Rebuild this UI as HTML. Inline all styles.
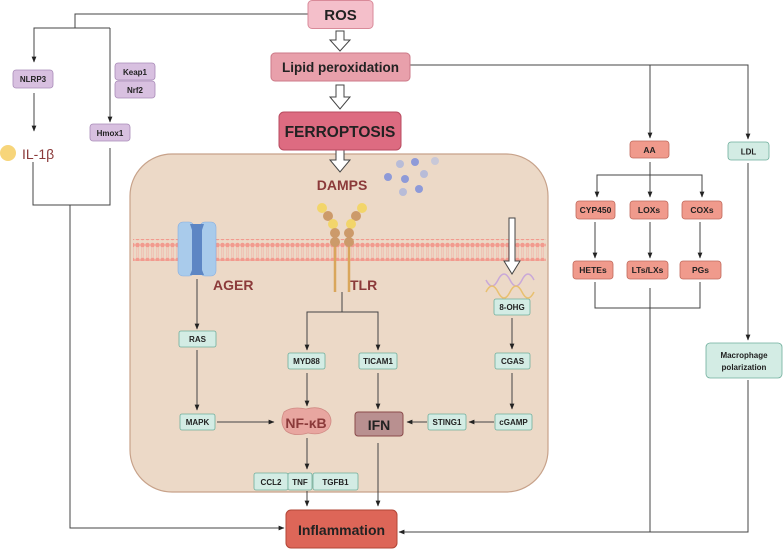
<!DOCTYPE html>
<html><head><meta charset="utf-8"><style>
body{margin:0;background:#fff}
svg{display:block}
text{font-family:"Liberation Sans",sans-serif;font-weight:bold}
text.n{font-weight:normal}
</style></head><body>
<svg width="783" height="552" viewBox="0 0 783 552" xmlns="http://www.w3.org/2000/svg">
<defs>
<marker id="a" viewBox="0 0 10 10" refX="9" refY="5" markerWidth="6" markerHeight="6" orient="auto"><path d="M0,1 L10,5 L0,9 z" fill="#222"/></marker>
<pattern id="lip" x="0" y="0" width="5" height="22" patternUnits="userSpaceOnUse">
<circle cx="2.5" cy="3" r="2.3" fill="#f29a8e"/>
<line x1="1.8" y1="5" x2="1.8" y2="17" stroke="#f2b0a6" stroke-width="0.6"/>
<line x1="3.2" y1="5" x2="3.2" y2="17" stroke="#f2b0a6" stroke-width="0.6"/>
<circle cx="2.5" cy="18" r="2.3" fill="#f29a8e"/>
</pattern>
</defs>
<rect x="130" y="154" width="418" height="338" rx="42" fill="#ecd9c7" stroke="#c7a28a" stroke-width="1.2"/>
<rect x="133" y="239" width="413" height="22" fill="url(#lip)"/>
<g fill="none" stroke="#444" stroke-width="1">
<polyline points="308,14 75,14 75,28"/>
<polyline points="110,28 34,28 34,62" marker-end="url(#a)"/>
<polyline points="110,28 110,122" marker-end="url(#a)"/>
<line x1="34" y1="93" x2="34" y2="131" marker-end="url(#a)"/>
<polyline points="33,162 33,205 110,205 110,148"/>
<polyline points="70,205 70,528 284,528" marker-end="url(#a)"/>
<polyline points="410,65 748,65 748,139" marker-end="url(#a)"/>
<line x1="650" y1="65" x2="650" y2="138" marker-end="url(#a)"/>
<line x1="650" y1="162" x2="650" y2="197" marker-end="url(#a)"/>
<polyline points="597,197 597,175 702,175 702,197" />
<line x1="597" y1="190" x2="597" y2="197" marker-end="url(#a)"/>
<line x1="702" y1="190" x2="702" y2="197" marker-end="url(#a)"/>
<line x1="595" y1="222" x2="595" y2="258" marker-end="url(#a)"/>
<line x1="650" y1="222" x2="650" y2="258" marker-end="url(#a)"/>
<line x1="700" y1="222" x2="700" y2="258" marker-end="url(#a)"/>
<polyline points="595,282 595,308 700,308 700,282"/>
<polyline points="650,288 650,532 399,532" marker-end="url(#a)"/>
<line x1="748" y1="163" x2="748" y2="340" marker-end="url(#a)"/>
<polyline points="748,380 748,532 650,532"/>
<line x1="197" y1="279" x2="197" y2="329" marker-end="url(#a)"/>
<line x1="197" y1="350" x2="197" y2="410" marker-end="url(#a)"/>
<line x1="217" y1="422" x2="274" y2="422" marker-end="url(#a)"/>
<line x1="342" y1="292" x2="342" y2="312"/>
<polyline points="307,350 307,312 378,312 378,350"/>
<line x1="307" y1="340" x2="307" y2="350" marker-end="url(#a)"/>
<line x1="378" y1="340" x2="378" y2="350" marker-end="url(#a)"/>
<line x1="307" y1="373" x2="307" y2="406" marker-end="url(#a)"/>
<line x1="378" y1="373" x2="378" y2="409" marker-end="url(#a)"/>
<line x1="307" y1="438" x2="307" y2="469" marker-end="url(#a)"/>
<line x1="307" y1="491" x2="307" y2="506" marker-end="url(#a)"/>
<line x1="378" y1="443" x2="378" y2="506" marker-end="url(#a)"/>
<line x1="512" y1="318" x2="512" y2="349" marker-end="url(#a)"/>
<line x1="512" y1="373" x2="512" y2="409" marker-end="url(#a)"/>
<line x1="494" y1="422" x2="469" y2="422" marker-end="url(#a)"/>
<line x1="427" y1="422" x2="407" y2="422" marker-end="url(#a)"/>
</g>
<g fill="#fff" stroke="#444" stroke-width="1">
<path d="M336,31 h8 v9 h6 l-10,11 l-10,-11 h6 z"/>
<path d="M336,85 h8 v12 h6 l-10,12 l-10,-12 h6 z"/>
<path d="M336,150 h8 v10 h6 l-10,12 l-10,-12 h6 z"/>
<path d="M509,218 h6 v43 h5 l-8,13 l-8,-13 h5 z"/>
</g>
<rect x="308" y="0.5" width="65" height="28" rx="4" fill="#f4bfca" stroke="#d98a99"/>
<text x="340.5" y="20" font-size="15" text-anchor="middle" fill="#222">ROS</text>
<rect x="271" y="53" width="139" height="28" rx="4" fill="#e8a0ab" stroke="#cc7a88"/>
<text x="340.5" y="72" font-size="13.5" text-anchor="middle" fill="#222">Lipid peroxidation</text>
<rect x="279" y="112" width="122" height="38" rx="5" fill="#dd6b81" stroke="#b84b60"/>
<text x="340" y="137" font-size="15.5" text-anchor="middle" fill="#222">FERROPTOSIS</text>
<rect x="286" y="510" width="111" height="38" rx="5" fill="#dd6658" stroke="#b24536"/>
<text x="341.5" y="535" font-size="14" text-anchor="middle" fill="#222">Inflammation</text>
<g fill="#d8c0e0" stroke="#a98bb8" stroke-width="0.8">
<rect x="13" y="70" width="40" height="18" rx="3"/>
<rect x="115" y="63" width="40" height="17" rx="3"/>
<rect x="115" y="81" width="40" height="17" rx="3"/>
<rect x="90" y="124" width="40" height="17" rx="3"/>
</g>
<g font-size="8" text-anchor="middle" fill="#222">
<text x="33" y="82">NLRP3</text><text x="135" y="75">Keap1</text><text x="135" y="93">Nrf2</text><text x="110" y="136">Hmox1</text>
</g>
<circle cx="8" cy="153" r="8" fill="#f7d57a"/>
<text class="n" x="22" y="159" font-size="14" fill="#8b3a3a">IL-1β</text>
<g fill="#f09a8c" stroke="#c06a5c" stroke-width="0.8">
<rect x="630" y="141" width="39" height="17" rx="3"/>
<rect x="576" y="201" width="39" height="18" rx="3"/>
<rect x="630" y="201" width="38" height="18" rx="3"/>
<rect x="682" y="201" width="40" height="18" rx="3"/>
<rect x="573" y="261" width="40" height="18" rx="3"/>
<rect x="627" y="261" width="41" height="18" rx="3"/>
<rect x="680" y="261" width="41" height="18" rx="3"/>
</g>
<g font-size="8.5" text-anchor="middle" fill="#222">
<text x="649.5" y="153">AA</text><text x="595.5" y="213">CYP450</text><text x="649" y="213">LOXs</text><text x="702" y="213">COXs</text>
<text x="593" y="273">HETEs</text><text x="647.5" y="273">LTs/LXs</text><text x="700.5" y="273">PGs</text>
</g>
<g fill="#d3ece4" stroke="#6fae9c" stroke-width="0.8">
<rect x="728" y="142" width="41" height="18" rx="3"/>
<rect x="706" y="343" width="76" height="35" rx="4"/>
<rect x="179" y="331" width="37" height="16" rx="2"/>
<rect x="180" y="414" width="35" height="16" rx="2"/>
<rect x="288" y="353" width="37" height="16" rx="2"/>
<rect x="359" y="353" width="38" height="16" rx="2"/>
<rect x="494" y="299" width="36" height="16" rx="2"/>
<rect x="495" y="353" width="35" height="16" rx="2"/>
<rect x="495" y="414" width="37" height="16" rx="2"/>
<rect x="428" y="414" width="38" height="16" rx="2"/>
<rect x="254" y="473" width="34" height="17" rx="2"/>
<rect x="288" y="473" width="24" height="17" rx="2"/>
<rect x="313" y="473" width="45" height="17" rx="2"/>
</g>
<g font-size="8" text-anchor="middle" fill="#222">
<text x="748.5" y="154.5">LDL</text>
<text x="744" y="358">Macrophage</text><text x="744" y="370">polarization</text>
<text x="197.5" y="342">RAS</text><text x="197.5" y="425">MAPK</text>
<text x="306.5" y="364">MYD88</text><text x="378" y="364">TICAM1</text>
<text x="512" y="310">8-OHG</text><text x="512.5" y="364">CGAS</text>
<text x="513.5" y="425">cGAMP</text><text x="447" y="425">STING1</text>
<text x="271" y="485">CCL2</text><text x="300" y="485">TNF</text><text x="335.5" y="485">TGFB1</text>
</g>
<path d="M284,412 q8,-6 22,-3 q14,-4 22,4 q6,8 0,16 q-8,7 -20,4 q-14,4 -22,-2 q-7,-8 -2,-19z" fill="#e8a6a0" stroke="#d08a84" stroke-width="0.8"/>
<text x="306" y="428" font-size="14" text-anchor="middle" fill="#8b3a3a">NF-κB</text>
<rect x="355" y="412" width="48" height="24" rx="3" fill="#b99090" stroke="#8a4a4a"/>
<text x="379" y="430" font-size="14" text-anchor="middle" fill="#222">IFN</text>
<text x="342" y="190" font-size="14" text-anchor="middle" fill="#8b3a3a">DAMPS</text>
<text x="213" y="290" font-size="14" fill="#8b3a3a">AGER</text>
<text x="350" y="290" font-size="14" fill="#8b3a3a">TLR</text>
<g>
<circle cx="400" cy="164" r="4" fill="#b8bcd8"/><circle cx="415" cy="162" r="4" fill="#8e9ad8"/><circle cx="435" cy="161" r="4" fill="#c8c8d8"/>
<circle cx="388" cy="177" r="4" fill="#8e9ad8"/><circle cx="405" cy="179" r="4" fill="#8e9ad8"/><circle cx="424" cy="174" r="4" fill="#b8bcd8"/>
<circle cx="403" cy="192" r="4" fill="#b8bcd8"/><circle cx="419" cy="189" r="4" fill="#8e9ad8"/>
</g>
<rect x="178" y="222" width="16" height="54" rx="5" fill="#a9cbeb" stroke="#88aee0" stroke-width="0.6"/>
<rect x="200" y="222" width="16" height="54" rx="5" fill="#a9cbeb" stroke="#88aee0" stroke-width="0.6"/>
<path d="M190,224 h14 l-2,6 v40 l2,5 h-14 l2,-5 v-40z" fill="#5d86c4"/>
<g>
<line x1="335" y1="245" x2="335" y2="292" stroke="#d9a65b" stroke-width="2.5"/>
<line x1="349" y1="245" x2="349" y2="292" stroke="#d9a65b" stroke-width="2.5"/>
<circle cx="322" cy="208" r="5" fill="#f2d56a"/><circle cx="362" cy="208" r="5" fill="#f2d56a"/>
<circle cx="328" cy="216" r="5" fill="#cc9a6a"/><circle cx="356" cy="216" r="5" fill="#cc9a6a"/>
<circle cx="333" cy="224" r="5" fill="#f2d56a"/><circle cx="351" cy="224" r="5" fill="#f2d56a"/>
<circle cx="335" cy="233" r="5" fill="#cc9a6a"/><circle cx="349" cy="233" r="5" fill="#cc9a6a"/>
<circle cx="335" cy="242" r="5" fill="#cc9a6a"/><circle cx="349" cy="242" r="5" fill="#cc9a6a"/>
</g>
<g fill="none" stroke-width="1.5">
<path d="M486,280 q6,12 12,0 q6,-12 12,0 q6,12 12,0 q6,-12 12,0" stroke="#c9a8d8"/>
<path d="M486,292 q6,-12 12,0 q6,12 12,0 q6,-12 12,0 q6,12 12,0" stroke="#e8c070"/>
</g>
</svg>
</body></html>
